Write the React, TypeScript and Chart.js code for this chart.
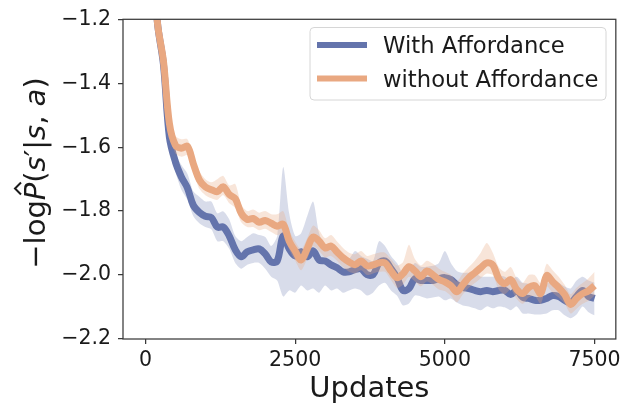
import React, { useEffect, useRef } from 'react';
import { Chart, registerables } from 'chart.js';

Chart.register(...registerables);

// ---- data ----
const updates = [
  0, 100, 200, 300, 400, 500, 600, 700, 800, 900,
  1000, 1100, 1200, 1300, 1400, 1500, 1600, 1700, 1800, 1900,
  2000, 2100, 2200, 2300, 2400, 2500, 2600, 2700, 2800, 2900,
  3000, 3100, 3200, 3300, 3400, 3500, 3600, 3700, 3800, 3900,
  4000, 4100, 4200, 4300, 4400, 4500, 4600, 4700, 4800, 4900,
  5000, 5100, 5200, 5300, 5400, 5500, 5600, 5700, 5800, 5900,
  6000, 6100, 6200, 6300, 6400, 6500, 6600, 6700, 6800, 6900,
  7000, 7100, 7200, 7300, 7400, 7500,
];

const withAffordance = [
  -0.6, -0.92, -1.21, -1.34, -1.569, -1.646, -1.693, -1.727, -1.782, -1.804,
  -1.816, -1.82, -1.85, -1.85, -1.878, -1.921, -1.943, -1.927, -1.921, -1.918,
  -1.934, -1.959, -1.956, -1.878, -1.918, -1.94, -1.927, -1.943, -1.924, -1.953,
  -1.956, -1.968, -1.977, -1.99, -1.99, -1.983, -1.98, -1.999, -1.999, -1.962,
  -1.956, -1.98, -2.008, -2.048, -2.042, -2.011, -2.017, -2.017, -2.017, -2.011,
  -2.008, -2.014, -2.03, -2.039, -2.042, -2.048, -2.052, -2.048, -2.052, -2.048,
  -2.048, -2.061, -2.048, -2.07, -2.073, -2.079, -2.079, -2.073, -2.064, -2.067,
  -2.079, -2.086, -2.067, -2.048, -2.067, -2.073,
];
const withAffordanceUpper = [
  -0.58, -0.9, -1.19, -1.31, -1.538, -1.615, -1.656, -1.683, -1.739, -1.755,
  -1.77, -1.77, -1.807, -1.801, -1.826, -1.878, -1.894, -1.881, -1.869, -1.875,
  -1.881, -1.909, -1.878, -1.662, -1.807, -1.878, -1.869, -1.816, -1.77, -1.869,
  -1.909, -1.903, -1.925, -1.94, -1.949, -1.925, -1.94, -1.949, -1.956, -1.894,
  -1.909, -1.94, -1.962, -1.993, -1.987, -1.962, -1.974, -1.974, -1.971, -1.962,
  -1.925, -1.962, -1.987, -1.993, -1.993, -1.993, -2.005, -2.005, -2.005, -2.002,
  -2.005, -2.017, -2.005, -2.024, -2.027, -2.036, -2.036, -2.027, -2.017, -2.024,
  -2.036, -2.042, -2.017, -2.005, -2.017, -2.024,
];
const withAffordanceLower = [
  -0.62, -0.94, -1.23, -1.36, -1.591, -1.677, -1.733, -1.764, -1.816, -1.838,
  -1.85, -1.857, -1.894, -1.894, -1.918, -1.962, -1.98, -1.968, -1.962, -1.962,
  -1.98, -2.005, -2.017, -2.067, -2.048, -2.055, -2.033, -2.048, -2.042, -2.055,
  -2.033, -2.048, -2.042, -2.055, -2.048, -2.042, -2.048, -2.064, -2.055, -2.033,
  -2.024, -2.048, -2.064, -2.095, -2.089, -2.064, -2.067, -2.073, -2.07, -2.067,
  -2.079, -2.073, -2.086, -2.095, -2.098, -2.104, -2.11, -2.098, -2.104, -2.098,
  -2.101, -2.11, -2.098, -2.12, -2.12, -2.123, -2.123, -2.12, -2.11, -2.11,
  -2.126, -2.135, -2.123, -2.098, -2.116, -2.126,
];

const withoutAffordance = [
  -0.6, -0.92, -1.21, -1.33, -1.526, -1.594, -1.603, -1.597, -1.652, -1.702,
  -1.724, -1.733, -1.739, -1.724, -1.748, -1.761, -1.807, -1.826, -1.823, -1.835,
  -1.829, -1.838, -1.847, -1.841, -1.894, -1.925, -1.953, -1.918, -1.881, -1.894,
  -1.915, -1.909, -1.928, -1.946, -1.959, -1.968, -1.956, -1.971, -1.968, -1.962,
  -1.962, -1.987, -2.008, -1.996, -1.974, -1.987, -2.005, -1.987, -1.999, -2.014,
  -2.021, -2.033, -2.052, -2.03, -2.008, -1.993, -1.977, -1.962, -1.968, -2.011,
  -2.027, -2.014, -2.045, -2.058, -2.039, -2.033, -2.058, -2.002, -2.021, -2.039,
  -2.061, -2.092, -2.073, -2.058, -2.049, -2.033,
];
const withoutAffordanceUpper = [
  -0.58, -0.9, -1.19, -1.31, -1.5, -1.565, -1.575, -1.575, -1.625, -1.675,
  -1.7, -1.71, -1.7, -1.69, -1.72, -1.715, -1.78, -1.8, -1.795, -1.805,
  -1.8, -1.81, -1.81, -1.8, -1.86, -1.895, -1.92, -1.885, -1.845, -1.86,
  -1.885, -1.875, -1.895, -1.915, -1.93, -1.935, -1.925, -1.94, -1.935, -1.93,
  -1.93, -1.95, -1.97, -1.96, -1.905, -1.95, -1.97, -1.955, -1.965, -1.98,
  -1.99, -2.0, -2.02, -1.995, -1.975, -1.955, -1.93, -1.9, -1.93, -1.975,
  -1.99, -1.975, -2.01, -2.025, -2.0, -2.0, -2.025, -1.965, -1.985, -2.005,
  -2.03, -2.06, -2.04, -2.025, -2.01, -1.99,
];
const withoutAffordanceLower = [
  -0.62, -0.94, -1.23, -1.35, -1.55, -1.62, -1.63, -1.625, -1.68, -1.73,
  -1.75, -1.76, -1.765, -1.75, -1.775, -1.79, -1.835, -1.85, -1.85, -1.86,
  -1.855, -1.865, -1.875, -1.87, -1.92, -1.955, -1.985, -1.95, -1.91, -1.925,
  -1.945, -1.94, -1.955, -1.975, -1.99, -1.995, -1.985, -2.0, -1.995, -1.99,
  -1.99, -2.015, -2.04, -2.03, -2.005, -2.02, -2.035, -2.02, -2.03, -2.045,
  -2.05, -2.065, -2.085, -2.06, -2.04, -2.025, -2.01, -1.995, -2.0, -2.045,
  -2.06, -2.045, -2.075, -2.09, -2.07, -2.065, -2.09, -2.035, -2.055, -2.07,
  -2.09, -2.12, -2.105, -2.09, -2.08, -2.065,
];

const xTicks = [0, 2500, 5000, 7500];
const yTicks = [-2.2, -2.0, -1.8, -1.6, -1.4, -1.2];
const seriesLabels = ['With Affordance', 'without Affordance'];
const xTitle = 'Updates';
// y title: −log P̂(s′|s, a), drawn in mathtext style (italic variables)
const yTitleParts = [
  { t: '−log', it: false },
  { t: 'P', it: true, hat: true },
  { t: '(', it: false },
  { t: 's', it: true },
  { t: '′', it: false },
  { t: '|', it: false },
  { t: 's', it: true },
  { t: ', ', it: false },
  { t: 'a', it: true },
  { t: ')', it: false },
];

const BLUE = 'rgb(100,116,172)';
const ORANGE = 'rgb(233,168,129)';
const BLUE_BAND = 'rgba(100,116,172,0.25)';
const ORANGE_BAND = 'rgba(233,168,129,0.3)';
const FONT = '"DejaVu Sans", "Liberation Sans", sans-serif';
const FRAME = '#3a3a3a';
const TEXT = '#1a1a1a';

const pts = (ys: number[]) => updates.map((x, i) => ({ x, y: ys[i] }));

const decorPlugin = {
  id: 'decor',
  afterDraw(chart: any) {
    const { ctx, chartArea } = chart;
    const { left, right, top, bottom } = chartArea;
    ctx.save();
    // frame
    ctx.strokeStyle = FRAME;
    ctx.lineWidth = 1.25;
    ctx.strokeRect(left, top, right - left, bottom - top);

    // x title
    ctx.fillStyle = TEXT;
    ctx.font = `29px ${FONT}`;
    ctx.textAlign = 'center';
    ctx.textBaseline = 'alphabetic';
    ctx.fillText(xTitle, (left + right) / 2, 397);

    // y title (rotated)
    ctx.save();
    ctx.translate(45, 173);
    ctx.rotate(-Math.PI / 2);
    ctx.textAlign = 'left';
    const fontFor = (it: boolean) => `${it ? 'oblique ' : ''}29px ${FONT}`;
    let total = 0;
    const widths = yTitleParts.map((p) => {
      ctx.font = fontFor(p.it);
      const w = ctx.measureText(p.t).width;
      total += w;
      return w;
    });
    let x = -total / 2;
    yTitleParts.forEach((p, i) => {
      ctx.font = fontFor(p.it);
      ctx.fillText(p.t, x, 0);
      if (p.hat) {
        const cx = x + widths[i] / 2 + 3;
        ctx.beginPath();
        ctx.moveTo(cx - 6, -24);
        ctx.lineTo(cx, -30);
        ctx.lineTo(cx + 6, -24);
        ctx.lineWidth = 2;
        ctx.strokeStyle = TEXT;
        ctx.stroke();
      }
      x += widths[i];
    });
    ctx.restore();

    // legend
    const bx = 310, by = 27.5, bw = 296, bh = 72.5, r = 4;
    ctx.beginPath();
    ctx.moveTo(bx + r, by);
    ctx.lineTo(bx + bw - r, by);
    ctx.arcTo(bx + bw, by, bx + bw, by + r, r);
    ctx.lineTo(bx + bw, by + bh - r);
    ctx.arcTo(bx + bw, by + bh, bx + bw - r, by + bh, r);
    ctx.lineTo(bx + r, by + bh);
    ctx.arcTo(bx, by + bh, bx, by + bh - r, r);
    ctx.lineTo(bx, by + r);
    ctx.arcTo(bx, by, bx + r, by, r);
    ctx.closePath();
    ctx.fillStyle = 'rgba(255,255,255,0.8)';
    ctx.fill();
    ctx.strokeStyle = '#d6d6d6';
    ctx.lineWidth = 1;
    ctx.stroke();
    const rows = [45, 78.5];
    const cols = [BLUE, ORANGE];
    rows.forEach((ry, i) => {
      ctx.beginPath();
      ctx.moveTo(317, ry);
      ctx.lineTo(367, ry);
      ctx.strokeStyle = cols[i];
      ctx.lineWidth = 6;
      ctx.lineCap = 'butt';
      ctx.stroke();
      ctx.fillStyle = TEXT;
      ctx.font = `22.7px ${FONT}`;
      ctx.textAlign = 'left';
      ctx.textBaseline = 'alphabetic';
      ctx.fillText(seriesLabels[i], 383, ry + 8);
    });
    ctx.restore();
  },
};

export default function App() {
  const ref = useRef<HTMLCanvasElement | null>(null);
  useEffect(() => {
    if (!ref.current) return;
    const bandBase = { pointRadius: 0, borderWidth: 0, tension: 0.25 };
    const lineBase = { borderWidth: 7, pointRadius: 0, fill: false, tension: 0.35, borderJoinStyle: 'round', borderCapStyle: 'butt' };
    const chart = new Chart(ref.current, {
      type: 'line',
      data: {
        datasets: [
          { ...bandBase, label: 'wa-up', data: pts(withAffordanceUpper), fill: false, order: 4, borderColor: 'transparent' },
          { ...bandBase, label: 'wa-lo', data: pts(withAffordanceLower), fill: '-1', backgroundColor: BLUE_BAND, order: 4, borderColor: 'transparent' },
          { ...lineBase, label: seriesLabels[0], data: pts(withAffordance), borderColor: BLUE, order: 3 },
          { ...bandBase, label: 'wo-up', data: pts(withoutAffordanceUpper), fill: false, order: 2, borderColor: 'transparent' },
          { ...bandBase, label: 'wo-lo', data: pts(withoutAffordanceLower), fill: '-1', backgroundColor: ORANGE_BAND, order: 2, borderColor: 'transparent' },
          { ...lineBase, label: seriesLabels[1], data: pts(withoutAffordance), borderColor: ORANGE, order: 1 },
        ],
      },
      options: {
        responsive: false,
        animation: false,
        devicePixelRatio: 1,
        layout: { padding: { top: 16, right: 8, left: 0, bottom: 0 } },
        plugins: { legend: { display: false }, tooltip: { enabled: false } },
        scales: {
          x: {
            type: 'linear',
            min: -375,
            max: 7855,
            afterBuildTicks: (s: any) => { s.ticks = xTicks.map((v) => ({ value: v })); },
            afterFit: (s: any) => { s.height = 70; },
            ticks: {
              font: { family: FONT, size: 20.5 },
              color: TEXT,
              padding: 4,
              maxRotation: 0,
              autoSkip: false,
              callback: (v: any) => String(v),
            },
            grid: { drawOnChartArea: false, drawTicks: true, tickLength: 5, color: FRAME, lineWidth: 1.25 },
            border: { display: false },
          },
          y: {
            type: 'linear',
            min: -2.2,
            max: -1.2,
            afterBuildTicks: (s: any) => { s.ticks = yTicks.map((v) => ({ value: v })); },
            afterFit: (s: any) => { s.width = 123; },
            ticks: {
              font: { family: FONT, size: 20.5 },
              color: TEXT,
              padding: 7,
              autoSkip: false,
              callback: (v: any) => (Number(v) < 0 ? '−' : '') + Math.abs(Number(v)).toFixed(1),
            },
            grid: { drawOnChartArea: false, drawTicks: true, tickLength: 5, color: FRAME, lineWidth: 1.25 },
            border: { display: false },
          },
        },
      },
      plugins: [decorPlugin],
    } as any);
    return () => chart.destroy();
  }, []);
  return (
    <div style={{ position: 'fixed', left: 0, top: 0, width: 625, height: 409, background: '#fff' }}>
      <canvas ref={ref} width={625} height={409} style={{ width: 625, height: 409 }} />
    </div>
  );
}
